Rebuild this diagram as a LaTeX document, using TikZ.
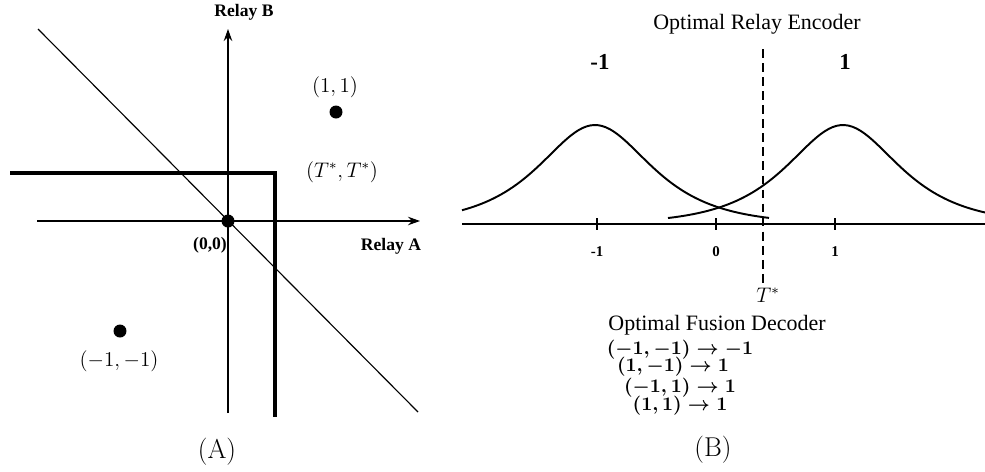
\documentclass[tikz,border=0pt]{standalone}
\usepackage{fontspec}
\newfontfamily\timesfont{Liberation Serif}
\usetikzlibrary{arrows.meta}
\tikzset{
  thin line/.style={line width=0.65pt},
  heavy line/.style={line width=2.3pt},
  bell/.style={line width=1.1pt},
  axisarrow/.style={thin line, -{Stealth[length=2.4mm, width=1.7mm]}},
  axlabel/.style={inner sep=0pt, font=\timesfont\bfseries\fontsize{10}{12}\selectfont},
  ptlabel/.style={inner sep=0pt, font=\fontsize{12}{14}\selectfont},
  title/.style={inner sep=0pt, font=\timesfont\fontsize{12.5}{15}\selectfont},
  ticklabel/.style={inner sep=0pt, font=\timesfont\bfseries\fontsize{8.5}{10}\selectfont},
  classlabel/.style={inner sep=0pt, font=\timesfont\bfseries\fontsize{13}{15}\selectfont},
  rulelabel/.style={inner sep=0pt, font=\fontsize{11}{13}\selectfont\boldmath},
  panel/.style={inner sep=0pt, font=\fontsize{15.5}{18}\selectfont},
  dot/.style={circle, fill=black, inner sep=0pt, minimum size=2.6mm},
}

\begin{document}
\begin{tikzpicture}[x=0.02cm, y=-0.02cm]
    \useasboundingbox (0,0) rectangle (985,471);
    % (A) relay quantizer plane
    \coordinate (xa) at (37,221);
    \coordinate (xb) at (420,221);
    \coordinate (ya) at (228,413);
    \coordinate (yb) at (228,29);
    \coordinate (da) at (38,29);
    \coordinate (db) at (418,412);
    \coordinate (ha) at (10,173);
    \coordinate (hc) at (275,173);
    \coordinate (hb) at (275,417);
    \draw[axisarrow] (xa) -- (xb);
    \draw[axisarrow] (ya) -- (yb);
    \draw[thin line] (da) -- (db);
    \draw[heavy line] (ha) -- (hc) -- (hb);
    \node[dot] (orig) at (228,221) {};
    \node[dot] (pp) at (336,112) {};
    \node[dot] (mm) at (120,331) {};
    \node[axlabel] (relB) at (244,12) {Relay B};
    \node[axlabel] (relA) at (391,246) {Relay A};
    \node[axlabel] (origlab) at (210,245) {(0,0)};
    \node[ptlabel] (pplab) at (335,87) {$(1,1)$};
    \node[ptlabel] (tlab) at (342,172) {$(T^*,T^*)$};
    \node[ptlabel] (mmlab) at (119,361) {$(-1,-1)$};
    \node[panel] (pA) at (217,452) {(A)};
    % (B) encoder and decoder
    \coordinate (ra) at (462,224);
    \coordinate (rb) at (985,224);
    \coordinate (ta) at (763,49);
    \coordinate (tb) at (763,287);
    \draw[thin line, line width=0.9pt] (ra) -- (rb);
    \foreach \t/\lab in {597/-1, 716/0, 835/1} {
      \draw[thin line, line width=0.9pt] (\t,218) -- (\t,230);
      \node[ticklabel] at (\t,252) {\lab};
    }
    \draw[thin line, line width=0.9pt, dash pattern=on 5pt off 3pt] (ta) -- (tb);
    \draw[bell] plot[domain=462:769, samples=80] (\x, {224-99/cosh((\x-595)/50)});
    \draw[bell] plot[domain=668:985, samples=80] (\x, {224-99/cosh((\x-843)/50)});
    \node[title] (enc) at (757,24) {Optimal Relay Encoder};
    \node[classlabel] (cm) at (600,62) {-1};
    \node[classlabel] (cp) at (845,62) {1};
    \node[ptlabel] (tstar) at (768,295) {$T^*$};
    \node[title] (dec) at (717,325) {Optimal Fusion Decoder};
    \node[rulelabel] (r1) at (680,350) {$(-1,-1)\rightarrow -1$};
    \node[rulelabel] (r2) at (673,367) {$(1,-1)\rightarrow 1$};
    \node[rulelabel] (r3) at (680,388) {$(-1,1)\rightarrow 1$};
    \node[rulelabel] (r4) at (680,406) {$(1,1)\rightarrow 1$};
    \node[panel] (pB) at (713,450) {(B)};
  \end{tikzpicture}
\end{document}
